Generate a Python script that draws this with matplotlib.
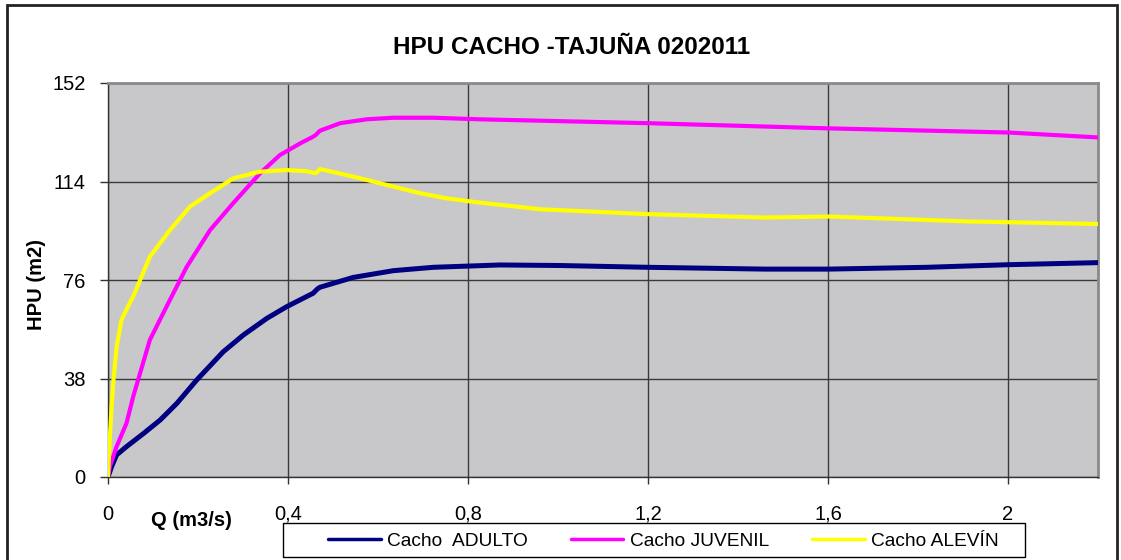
import matplotlib
matplotlib.use("Agg")
import matplotlib.pyplot as plt
from matplotlib.patches import Rectangle
from matplotlib.ticker import FixedLocator, FixedFormatter

plt.rcParams['font.family'] = ['Liberation Sans', 'DejaVu Sans']

title = "HPU CACHO -TAJUÑA 0202011"
x_label = "Q (m3/s)"
y_label = "HPU (m2)"
x_ticks = [0, 0.4, 0.8, 1.2, 1.6, 2.0]
x_tick_labels = ["0", "0,4", "0,8", "1,2", "1,6", "2"]
y_ticks = [0, 38, 76, 114, 152]

q_adulto = [0, 0.008, 0.019, 0.041, 0.079, 0.116, 0.153, 0.197, 0.256, 0.301,
            0.353, 0.397, 0.440, 0.456, 0.465, 0.471, 0.545, 0.634, 0.723, 0.871,
            1.0, 1.2, 1.46, 1.6, 1.82, 2.0, 2.2]
hpu_adulto = [0, 4, 8.5, 11.7, 16.8, 22, 28.4, 37.4, 48.3, 54.8,
              61.2, 65.7, 69.5, 70.9, 72.5, 73.2, 77, 79.6, 80.9, 81.8,
              81.6, 80.9, 80.2, 80.2, 80.9, 81.9, 82.7]

q_juvenil = [0, 0.004, 0.019, 0.041, 0.056, 0.093, 0.130, 0.175, 0.227, 0.278,
             0.338, 0.382, 0.427, 0.456, 0.462, 0.471, 0.516, 0.575, 0.634, 0.723,
             0.824, 1.2, 1.6, 2.0, 2.2]
hpu_juvenil = [0, 4, 11.7, 20.7, 31, 52.9, 65.7, 81.1, 95.3, 105.6,
               117.2, 124.2, 128.7, 131.3, 132, 133.6, 136.5, 138, 138.6, 138.6,
               138.0, 136.5, 134.5, 132.9, 131]

q_alevin = [0, 0.004, 0.008, 0.012, 0.019, 0.030, 0.045, 0.056, 0.093, 0.138,
            0.182, 0.227, 0.250, 0.278, 0.338, 0.397, 0.440, 0.456, 0.462, 0.471,
            0.545, 0.619, 0.693, 0.753, 0.824, 0.96, 1.2, 1.458, 1.576, 1.6,
            1.91, 2.2]
hpu_alevin = [0, 15, 27, 37, 50, 60.6, 66, 69.6, 85, 95.3,
              104.3, 109.5, 112, 115.2, 117.8, 118.4, 118, 117.4, 117.2, 118.8,
              115.9, 112.7, 109.5, 107.5, 105.9, 103.3, 101.4, 100.1, 100.4, 100.5,
              98.6, 97.6]

W, H = 1121, 560
fig = plt.figure(figsize=(W / 100, H / 100), dpi=100)
fig.patch.set_facecolor('white')

def fx(px):
    return px / W

def fy(py):
    return 1 - py / H

ax = fig.add_axes([fx(108), fy(477), fx(1098) - fx(108), fy(83) - fy(477)])
ax.set_facecolor('#C8C8CA')

ax.plot(q_adulto, hpu_adulto, color='#000080', lw=3.6, label='Cacho  ADULTO', solid_capstyle='round', zorder=3)
ax.plot(q_juvenil, hpu_juvenil, color='#FF00FF', lw=3.0, label='Cacho JUVENIL', solid_capstyle='round', zorder=3)
ax.plot(q_alevin, hpu_alevin, color='#FFFF00', lw=3.0, label='Cacho ALEVÍN', solid_capstyle='round', zorder=3)

ax.set_xlim(0, 2.2)
ax.set_ylim(0, 152)
ax.xaxis.set_major_locator(FixedLocator(x_ticks))
ax.xaxis.set_major_formatter(FixedFormatter(x_tick_labels))
ax.set_yticks(y_ticks)
ax.grid(True, color='#3A3A3A', lw=1.0, zorder=1)
ax.set_axisbelow(True)

ax.tick_params(axis='x', direction='out', length=5, width=1, color='#333333', pad=15, labelsize=14.5)
ax.tick_params(axis='y', direction='out', length=6, width=1, color='#333333', pad=10, labelsize=14.5)

for s in ['top', 'right']:
    ax.spines[s].set_color('#8A8A8A')
    ax.spines[s].set_linewidth(2)
for s in ['left', 'bottom']:
    ax.spines[s].set_color('#333333')
    ax.spines[s].set_linewidth(1)

fig.text(fx(572), fy(48), title, ha='center', va='center', fontsize=17.5, fontweight='bold')
fig.text(fx(36), fy(284), y_label, ha='center', va='center', rotation=90, fontsize=14.5, fontweight='bold')
fig.text(fx(191), fy(520), x_label, ha='center', va='center', fontsize=14.5, fontweight='bold')

# legend frame
legend_box = Rectangle((fx(283), fy(557)), fx(1025) - fx(283), fy(523) - fy(557),
                       transform=fig.transFigure, facecolor='white', edgecolor='black',
                       lw=1, zorder=5)
fig.patches.append(legend_box)

leg = fig.legend(loc='center left', bbox_to_anchor=(fx(328), fy(541)), ncol=3,
                 frameon=False, fontsize=13.8, handlelength=2.75, handletextpad=0.32,
                 borderaxespad=0, borderpad=0, columnspacing=2.25)
leg.set_zorder(6)
for line in leg.get_lines():
    line.set_linewidth(2.5)

border = Rectangle((fx(7), -0.1), fx(1117) - fx(7), fy(5) + 0.1, transform=fig.transFigure,
                   fill=False, edgecolor='#222222', lw=2, clip_on=False)
fig.patches.append(border)

fig.savefig('out.png', dpi=100)
